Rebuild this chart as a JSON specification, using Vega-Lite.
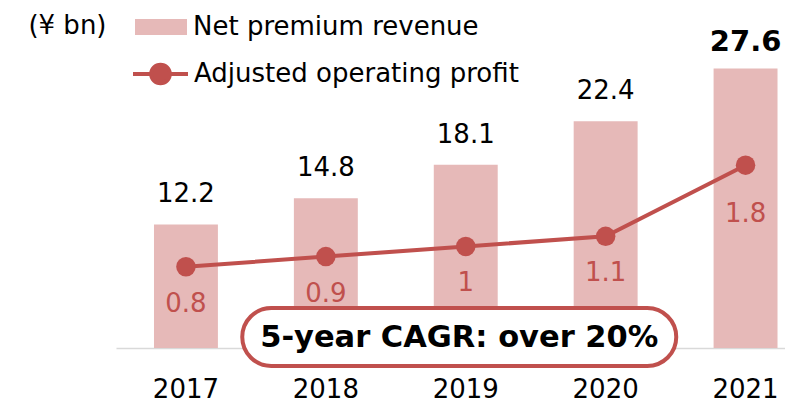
{
  "$schema": "https://vega.github.io/schema/vega-lite/v6.json",
  "width": 669,
  "height": 326,
  "autosize": "none",
  "padding": {"left": 116, "top": 22, "right": 0, "bottom": 52},
  "config": {"font": "DejaVu Sans", "view": {"stroke": null}},
  "data": {
    "values": [
      {"year": "2017", "revenue": 12.2, "profit": 0.8},
      {"year": "2018", "revenue": 14.8, "profit": 0.9},
      {"year": "2019", "revenue": 18.1, "profit": 1.0},
      {"year": "2020", "revenue": 22.4, "profit": 1.1},
      {"year": "2021", "revenue": 27.6, "profit": 1.8}
    ]
  },
  "encoding": {
    "x": {
      "field": "year",
      "type": "ordinal",
      "scale": {"range": [0, 699.5], "paddingInner": 0.543, "paddingOuter": 0.2715},
      "axis": {
        "title": null,
        "labelAngle": 0,
        "labelFontSize": 26,
        "labelColor": "black",
        "labelFont": "DejaVu Sans",
        "ticks": false,
        "tickSize": 0,
        "labelPadding": 49,
        "labelBaseline": "alphabetic",
        "domainColor": "#D9D9D9",
        "domainWidth": 1.5,
        "grid": false,
        "zindex": 0
      }
    }
  },
  "layer": [
    {
      "mark": {"type": "bar"},
      "encoding": {
        "y": {
          "field": "revenue",
          "type": "quantitative",
          "scale": {"domain": [0, 32.2], "nice": false},
          "axis": {
            "title": "(¥ bn)",
            "titleAngle": 0,
            "titleAlign": "right",
            "titleBaseline": "middle",
            "titleX": -10,
            "titleY": 3,
            "titleFontSize": 26,
            "titleFontWeight": "normal",
            "titleFont": "DejaVu Sans",
            "titleColor": "black",
            "labels": false,
            "ticks": false,
            "domain": false,
            "grid": false
          }
        },
        "fill": {
          "datum": "Net premium revenue",
          "scale": {"range": ["#E6B9B8"]},
          "legend": {
            "orient": "none",
            "legendX": 19,
            "legendY": -21,
            "title": null,
            "padding": 0,
            "symbolType": "M-1,-0.3077H1V0.3077H-1Z",
            "symbolSize": 2704,
            "symbolStrokeWidth": 0,
            "labelFontSize": 26,
            "labelFont": "DejaVu Sans",
            "labelColor": "black",
            "labelOffset": 6,
            "labelLimit": 500
          }
        }
      }
    },
    {
      "mark": {"type": "line", "strokeWidth": 4},
      "encoding": {
        "y": {
          "field": "profit",
          "type": "quantitative",
          "scale": {"domain": [0, 3.21], "nice": false},
          "axis": null
        },
        "stroke": {
          "datum": "Adjusted operating profit",
          "scale": {"range": ["#C0504D"]},
          "legend": {
            "orient": "none",
            "legendX": 15,
            "legendY": 22.5,
            "title": null,
            "padding": 0,
            "symbolType": "M-1,0H1M0.34,0A0.34,0.34,0,1,1,-0.34,0A0.34,0.34,0,1,1,0.34,0Z",
            "symbolSize": 3025,
            "symbolStrokeWidth": 4,
            "symbolFillColor": "#C0504D",
            "labelFontSize": 26,
            "labelFont": "DejaVu Sans",
            "labelColor": "black",
            "labelOffset": 4,
            "labelLimit": 500,
            "encode": {"symbols": {"update": {"fill": {"value": "#C0504D"}, "opacity": {"value": 1}}}}
          }
        }
      }
    },
    {
      "mark": {"type": "circle", "size": 380, "color": "#C0504D", "opacity": 1},
      "encoding": {
        "y": {
          "field": "profit",
          "type": "quantitative",
          "scale": {"domain": [0, 3.21], "nice": false},
          "axis": null
        }
      }
    },
    {
      "transform": [{"filter": "datum.year != '2021'"}],
      "mark": {"type": "text", "fontSize": 26, "color": "black", "baseline": "alphabetic", "dy": -22},
      "encoding": {
        "y": {
          "field": "revenue",
          "type": "quantitative",
          "scale": {"domain": [0, 32.2], "nice": false},
          "axis": null
        },
        "text": {"field": "revenue", "type": "quantitative"}
      }
    },
    {
      "transform": [{"filter": "datum.year == '2021'"}],
      "mark": {"type": "text", "fontSize": 29, "fontWeight": "bold", "color": "black", "baseline": "alphabetic", "dy": -18},
      "encoding": {
        "y": {
          "field": "revenue",
          "type": "quantitative",
          "scale": {"domain": [0, 32.2], "nice": false},
          "axis": null
        },
        "text": {"field": "revenue", "type": "quantitative"}
      }
    },
    {
      "transform": [{"filter": "datum.year != '2021'"}],
      "mark": {"type": "text", "fontSize": 26, "color": "#C0504D", "baseline": "alphabetic", "dy": 45},
      "encoding": {
        "y": {
          "field": "profit",
          "type": "quantitative",
          "scale": {"domain": [0, 3.21], "nice": false},
          "axis": null
        },
        "text": {"field": "profit", "type": "quantitative"}
      }
    },
    {
      "transform": [{"filter": "datum.year == '2021'"}],
      "mark": {"type": "text", "fontSize": 26, "color": "#C0504D", "baseline": "alphabetic", "dy": 57},
      "encoding": {
        "y": {
          "field": "profit",
          "type": "quantitative",
          "scale": {"domain": [0, 3.21], "nice": false},
          "axis": null
        },
        "text": {"field": "profit", "type": "quantitative"}
      }
    },
    {
      "transform": [{"filter": "datum.year == '2019'"}],
      "mark": {"type": "bar", "width": 434, "cornerRadius": 29, "fill": "white", "stroke": "#C0504D", "strokeWidth": 4, "xOffset": -6.5},
      "encoding": {
        "y": {
          "datum": 3.95,
          "type": "quantitative",
          "scale": {"domain": [0, 32.2], "nice": false},
          "axis": null
        },
        "y2": {"datum": -1.78}
      }
    },
    {
      "transform": [{"filter": "datum.year == '2019'"}],
      "mark": {"type": "text", "text": "5-year CAGR: over 20%", "fontSize": 30.5, "fontWeight": "bold", "color": "black", "baseline": "alphabetic", "dy": -1.5, "dx": -6.5},
      "encoding": {
        "y": {
          "datum": 0,
          "type": "quantitative",
          "scale": {"domain": [0, 32.2], "nice": false},
          "axis": null
        }
      }
    }
  ],
  "resolve": {"scale": {"y": "independent"}}
}
